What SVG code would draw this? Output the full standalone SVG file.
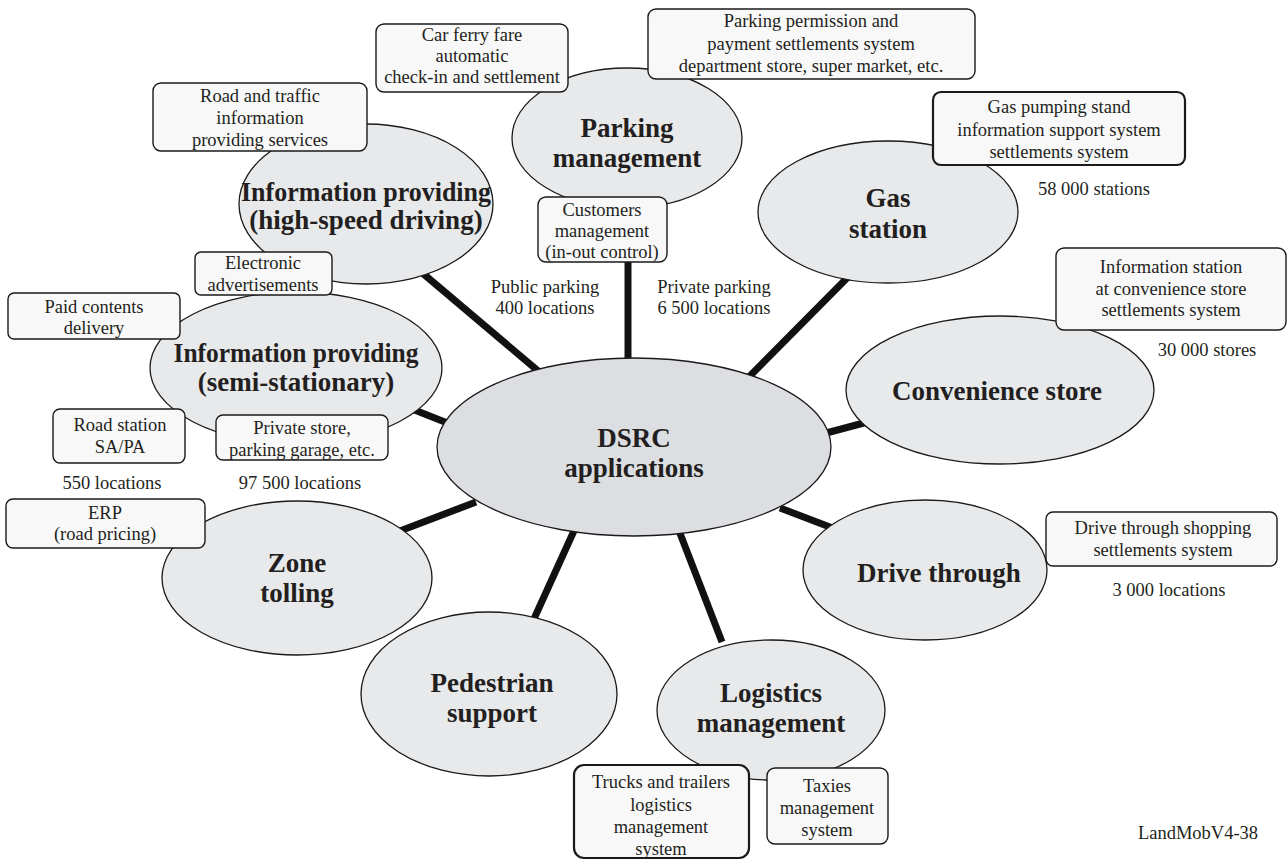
<svg xmlns="http://www.w3.org/2000/svg" width="1287" height="860" viewBox="0 0 1287 860">
<style>
.bg{fill:#ffffff}
.el{fill:#e8e9eb;stroke:#1a1a1a;stroke-width:1.3}
.ctr{fill:#dddee1;stroke:#1a1a1a;stroke-width:1.3}
.bx{fill:#f8f8f8;stroke:#1a1a1a;stroke-width:1.4}
.bxk{fill:#f8f8f8;stroke:#1a1a1a;stroke-width:2.2}
.lbl{font-family:"Liberation Serif","Times New Roman",serif;font-weight:bold;font-size:27px;fill:#231f20;text-anchor:middle}
.t{font-family:"Liberation Serif","Times New Roman",serif;font-size:18.5px;fill:#231f20;text-anchor:middle}
.con{stroke:#111;stroke-width:7;fill:none}
</style>
<rect class="bg" x="0" y="0" width="1287" height="860"/>
<g id="connectors">
<line class="con" x1="420" y1="271" x2="550" y2="381"/>
<line class="con" x1="628" y1="255" x2="628" y2="370"/>
<line class="con" x1="852" y1="273" x2="740" y2="386"/>
<line class="con" x1="875" y1="420" x2="815" y2="436"/>
<line class="con" x1="412" y1="409" x2="460" y2="428"/>
<line class="con" x1="392" y1="534" x2="476" y2="502"/>
<line class="con" x1="528" y1="632" x2="578" y2="522"/>
<line class="con" x1="722" y1="642" x2="676" y2="523"/>
<line class="con" x1="843" y1="532" x2="780" y2="508"/>
</g>
<g id="node-parking"><ellipse class="el" cx="627" cy="138" rx="115" ry="70"/><text class="lbl" x="627" y="137">Parking</text><text class="lbl" x="627" y="167">management</text></g>
<g id="node-highspeed"><ellipse class="el" cx="366" cy="204" rx="127" ry="80"/><text class="lbl" x="366" y="201" textLength="250" lengthAdjust="spacingAndGlyphs">Information providing</text><text class="lbl" x="366" y="229">(high-speed driving)</text></g>
<g id="node-gas"><ellipse class="el" cx="888" cy="212" rx="130" ry="71"/><text class="lbl" x="888" y="207">Gas</text><text class="lbl" x="888" y="238">station</text></g>
<g id="node-semi"><ellipse class="el" cx="296" cy="368" rx="146" ry="76"/><text class="lbl" x="296" y="362" textLength="245" lengthAdjust="spacingAndGlyphs">Information providing</text><text class="lbl" x="296" y="391">(semi-stationary)</text></g>
<g id="node-convenience"><ellipse class="el" cx="1000" cy="390" rx="154" ry="74"/><text class="lbl" x="997" y="400">Convenience store</text></g>
<g id="node-dsrc"><ellipse class="ctr" cx="634" cy="447" rx="197" ry="89"/><text class="lbl" x="634" y="447">DSRC</text><text class="lbl" x="634" y="477">applications</text></g>
<g id="node-zone"><ellipse class="el" cx="297" cy="578" rx="135" ry="77"/><text class="lbl" x="297" y="572">Zone</text><text class="lbl" x="297" y="602">tolling</text></g>
<g id="node-drive"><ellipse class="el" cx="925" cy="570" rx="122" ry="70"/><text class="lbl" x="939" y="582">Drive through</text></g>
<g id="node-pedestrian"><ellipse class="el" cx="489" cy="694" rx="128" ry="82"/><text class="lbl" x="492" y="692">Pedestrian</text><text class="lbl" x="492" y="722">support</text></g>
<g id="node-logistics"><ellipse class="el" cx="771" cy="710" rx="114" ry="70"/><text class="lbl" x="771" y="702">Logistics</text><text class="lbl" x="771" y="732">management</text></g>
<g id="box-carferry"><rect class="bx" x="376" y="24" width="192" height="68" rx="8"/><text class="t" x="472" y="41">Car ferry fare</text><text class="t" x="472" y="62">automatic</text><text class="t" x="472" y="83">check-in and settlement</text></g>
<g id="box-parkperm"><rect class="bx" x="648" y="9" width="327" height="70" rx="8"/><text class="t" x="811" y="27">Parking permission and</text><text class="t" x="811" y="50">payment settlements system</text><text class="t" x="811" y="72">department store, super market, etc.</text></g>
<g id="box-customers"><rect class="bx" x="538" y="197" width="129" height="65" rx="8"/><text class="t" x="602" y="216">Customers</text><text class="t" x="602" y="237">management</text><text class="t" x="602" y="258">(in-out control)</text></g>
<g id="box-roadtraffic"><rect class="bx" x="153" y="83" width="214" height="68" rx="8"/><text class="t" x="260" y="102">Road and traffic</text><text class="t" x="260" y="124">information</text><text class="t" x="260" y="146">providing services</text></g>
<g id="box-gas"><rect class="bxk" x="933" y="92" width="252" height="73" rx="8"/><text class="t" x="1059" y="113">Gas pumping stand</text><text class="t" x="1059" y="136">information support system</text><text class="t" x="1059" y="158">settlements system</text></g>
<g id="box-electronic"><rect class="bx" x="195" y="252" width="137" height="43" rx="6"/><text class="t" x="263" y="269">Electronic</text><text class="t" x="263" y="291">advertisements</text></g>
<g id="box-paid"><rect class="bx" x="8" y="293" width="172" height="46" rx="6"/><text class="t" x="94" y="313">Paid contents</text><text class="t" x="94" y="334">delivery</text></g>
<g id="box-infostation"><rect class="bx" x="1056" y="248" width="230" height="82" rx="8"/><text class="t" x="1171" y="273">Information station</text><text class="t" x="1171" y="295">at convenience store</text><text class="t" x="1171" y="316">settlements system</text></g>
<g id="box-roadstation"><rect class="bx" x="53" y="409" width="132" height="54" rx="7"/><text class="t" x="120" y="431">Road station</text><text class="t" x="120" y="453">SA/PA</text></g>
<g id="box-privatestore"><rect class="bx" x="216" y="415" width="172" height="45" rx="7"/><text class="t" x="302" y="434">Private store,</text><text class="t" x="302" y="456">parking garage, etc.</text></g>
<g id="box-erp"><rect class="bx" x="6" y="499" width="199" height="49" rx="7"/><text class="t" x="105" y="519">ERP</text><text class="t" x="105" y="540">(road pricing)</text></g>
<g id="box-drive"><rect class="bx" x="1046" y="512" width="231" height="54" rx="7"/><text class="t" x="1163" y="534">Drive through shopping</text><text class="t" x="1163" y="556">settlements system</text></g>
<g id="box-trucks"><rect class="bxk" x="574" y="765" width="175" height="93" rx="10"/><text class="t" x="661" y="788">Trucks and trailers</text><text class="t" x="661" y="811">logistics</text><text class="t" x="661" y="833">management</text><text class="t" x="661" y="855">system</text></g>
<g id="box-taxies"><rect class="bx" x="767" y="768" width="121" height="76" rx="8"/><text class="t" x="827" y="792">Taxies</text><text class="t" x="827" y="814">management</text><text class="t" x="827" y="836">system</text></g>
<g id="labels">
<text class="t" x="545" y="293">Public parking</text><text class="t" x="545" y="314">400 locations</text>
<text class="t" x="714" y="293">Private parking</text><text class="t" x="714" y="314">6 500 locations</text>
<text class="t" x="1094" y="195">58 000 stations</text>
<text class="t" x="1207" y="356">30 000 stores</text>
<text class="t" x="112" y="489">550 locations</text>
<text class="t" x="300" y="489">97 500 locations</text>
<text class="t" x="1169" y="596">3 000 locations</text>
<text class="t" x="1198" y="839">LandMobV4-38</text>
</g>
</svg>
